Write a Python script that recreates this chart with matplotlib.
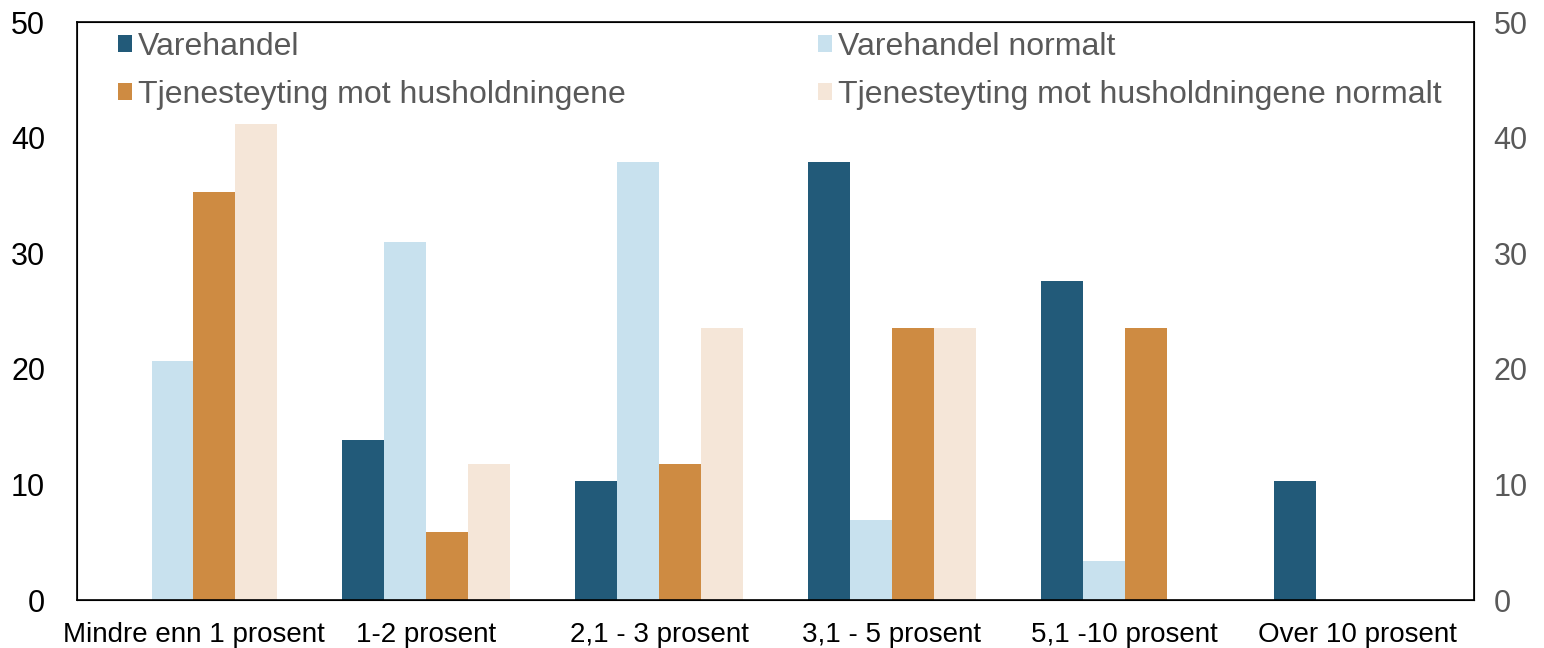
import matplotlib.pyplot as plt
import numpy as np

plt.rcParams['font.family'] = ['Liberation Sans', 'DejaVu Sans']

kategorier = ['Mindre enn 1 prosent', '1-2 prosent', '2,1 - 3 prosent',
              '3,1 - 5 prosent', '5,1 -10 prosent', 'Over 10 prosent']
varehandel = [0, 13.8, 10.3, 37.9, 27.6, 10.3]
varehandel_normalt = [20.7, 31.0, 37.9, 6.9, 3.4, 0]
tjeneste = [35.3, 5.9, 11.8, 23.5, 23.5, 0]
tjeneste_normalt = [41.2, 11.8, 23.5, 23.5, 0, 0]

serier = [
    ('Varehandel', varehandel, '#225A79'),
    ('Varehandel normalt', varehandel_normalt, '#C8E1EE'),
    ('Tjenesteyting mot husholdningene', tjeneste, '#CE8B42'),
    ('Tjenesteyting mot husholdningene normalt', tjeneste_normalt, '#F5E6D8'),
]

fig = plt.figure(figsize=(15.44, 6.48), dpi=100)
ax = fig.add_axes([77 / 1544, 48 / 648, 1397 / 1544, 578 / 648])

x = np.arange(len(kategorier))
w = 0.18
bars = []
for i, (navn, verdier, farge) in enumerate(serier):
    bars.append(ax.bar(x + (i - 1.5) * w, verdier, w, color=farge, label=navn))

ax.set_xlim(-0.5, len(kategorier) - 0.5)
ax.set_ylim(0, 50)
ax.set_yticks(range(0, 51, 10))
ax.set_xticks(x)
ax.set_xticklabels(kategorier, fontsize=20)
ax.tick_params(axis='both', length=0)
ax.tick_params(axis='y', labelsize=22, pad=23)
ax.tick_params(axis='x', pad=16)
for s in ax.spines.values():
    s.set_linewidth(1.2)

ax2 = ax.twinx()
ax2.set_ylim(0, 50)
ax2.set_yticks(range(0, 51, 10))
ax2.tick_params(axis='y', length=0, labelsize=22, labelcolor='#595959', pad=14)

# legend fills row-wise in the reference
rekkefolge = [0, 2, 1, 3]
ax.legend([bars[i] for i in rekkefolge], [serier[i][0] for i in rekkefolge],
          loc='upper left', ncol=2, frameon=False, fontsize=23,
          labelcolor='#595959', handlelength=0.45, handleheight=0.45,
          handletextpad=0.2, columnspacing=6.0, labelspacing=0.56,
          borderpad=0, borderaxespad=0, bbox_to_anchor=(0.029, 0.983))

fig.savefig('out.png', dpi=100)
